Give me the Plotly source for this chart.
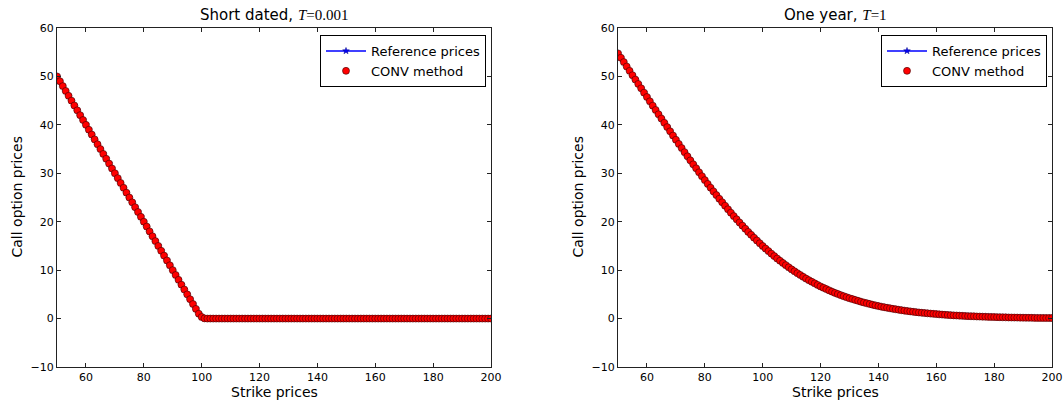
import plotly.graph_objects as go

strikes = list(range(50, 201))

ref_short = [50, 49, 48, 47, 46, 45, 44, 43, 42, 41,
             40, 39, 38, 37, 36, 35, 34, 33, 32, 31,
             30, 29, 28, 27, 26, 25, 24, 23, 22, 21,
             20, 19, 18, 17, 16, 15, 14, 13, 12, 11,
             10, 9, 8, 7, 6, 5, 4, 3, 2, 1.01,
             0.32, 0.04] + [0.0] * 99
conv_short = list(ref_short)

ref_long = [54.76, 53.86, 52.96, 52.05, 51.15,
            50.25, 49.35, 48.45, 47.55, 46.65,
            45.75, 44.86, 43.97, 43.08, 42.19,
            41.30, 40.42, 39.54, 38.67, 37.80,
            36.93, 36.07, 35.21, 34.36, 33.51,
            32.67, 31.85, 31.03, 30.21, 29.40,
            28.59, 27.81, 27.03, 26.26, 25.50,
            24.74, 24.02, 23.30, 22.58, 21.87,
            21.16, 20.50, 19.84, 19.19, 18.54,
            17.90, 17.30, 16.71, 16.13, 15.55,
            14.98, 14.45, 13.93, 13.41, 12.90,
            12.40, 11.94, 11.48, 11.03, 10.59,
            10.16, 9.77, 9.38, 9.00, 8.62,
            8.25, 7.92, 7.59, 7.27, 6.95,
            6.64, 6.36, 6.09, 5.82, 5.56,
            5.30, 5.07, 4.84, 4.62, 4.41,
            4.20, 4.02, 3.84, 3.66, 3.48,
            3.31, 3.16, 3.01, 2.86, 2.72,
            2.58, 2.46, 2.34, 2.23, 2.12,
            2.01, 1.92, 1.82, 1.73, 1.64,
            1.55, 1.48, 1.40, 1.33, 1.26,
            1.20, 1.14, 1.08, 1.03, 0.97,
            0.92, 0.87, 0.83, 0.78, 0.74,
            0.70, 0.66, 0.63, 0.60, 0.56,
            0.53, 0.50, 0.48, 0.46, 0.43,
            0.41, 0.39, 0.37, 0.35, 0.33,
            0.31, 0.29, 0.28, 0.26, 0.25,
            0.23, 0.22, 0.21, 0.20, 0.19,
            0.18, 0.17, 0.16, 0.15, 0.14,
            0.13, 0.12, 0.12, 0.11, 0.11,
            0.10]
conv_long = list(ref_long)

titles = ['Short dated, <span style="font-family:\'Liberation Serif\'"><i>T</i>=0.001</span>',
          'One year, <span style="font-family:\'Liberation Serif\'"><i>T</i>=1</span>']
x_ticks = [60, 80, 100, 120, 140, 160, 180, 200]
y_ticks = [-10, 0, 10, 20, 30, 40, 50, 60]

W, H = 1063, 401
FONT = "DejaVu Sans"

fig = go.Figure()

panels = [
    (ref_short, conv_short, "x", "y", "legend", (57, 491)),
    (ref_long, conv_long, "x2", "y2", "legend2", (618, 1052)),
]

for ref, conv, xa, ya, lg, _ in panels:
    fig.add_trace(go.Scatter(
        x=strikes, y=ref, xaxis=xa, yaxis=ya, legend=lg,
        mode="lines+markers", name="Reference prices",
        line=dict(color="#0000ff", width=1.5),
        marker=dict(symbol="star", size=5, color="#0000ff",
                    line=dict(color="#000080", width=0.5)),
    ))
    fig.add_trace(go.Scatter(
        x=strikes, y=conv, xaxis=xa, yaxis=ya, legend=lg,
        mode="markers", name="CONV method",
        marker=dict(symbol="circle", size=7, color="#ff0000",
                    line=dict(color="#3a0000", width=0.6)),
    ))

top, bottom = 28, 367
ydom = [1 - bottom / H, 1 - top / H]

axis_common = dict(
    showgrid=False, zeroline=False, showline=True, linecolor="#222222",
    linewidth=1, mirror="allticks", ticks="inside", ticklen=4,
    tickcolor="#222222", tickwidth=1,
    tickfont=dict(family=FONT, size=11, color="#000000"),
    automargin=False,
)

layout = dict(
    width=W, height=H,
    margin=dict(l=0, r=0, t=0, b=0),
    paper_bgcolor="#ffffff", plot_bgcolor="#ffffff",
    font=dict(family=FONT, color="#000000"),
    annotations=[],
)

for i, (ref, conv, xa, ya, lg, (x0, x1)) in enumerate(panels):
    xname = "xaxis" if i == 0 else "xaxis2"
    yname = "yaxis" if i == 0 else "yaxis2"
    layout[xname] = dict(axis_common, domain=[x0 / W, x1 / W], range=[50, 200],
                         tickvals=x_ticks, anchor=ya)
    layout[yname] = dict(axis_common, domain=ydom, range=[-10, 60],
                         tickvals=y_ticks, anchor=xa)
    layout[lg] = dict(
        x=(x1 - 5) / W, y=1 - 35 / H, xanchor="right", yanchor="top",
        bgcolor="#ffffff", bordercolor="#000000", borderwidth=1,
        font=dict(family=FONT, size=13, color="#000000"),
        tracegroupgap=0, itemwidth=40,
    )
    cx = (x0 + x1) / 2 / W
    layout["annotations"].append(dict(
        text=titles[i], xref="paper", yref="paper", x=cx, y=1 - 15 / H,
        xanchor="center", yanchor="middle", showarrow=False,
        font=dict(family=FONT, size=15, color="#000000")))
    layout["annotations"].append(dict(
        text="Strike prices", xref="paper", yref="paper", x=cx, y=1 - 392 / H,
        xanchor="center", yanchor="middle", showarrow=False,
        font=dict(family=FONT, size=14, color="#000000")))
    layout["annotations"].append(dict(
        text="Call option prices", xref="paper", yref="paper",
        x=(x0 - 40) / W, y=(ydom[0] + ydom[1]) / 2,
        xanchor="center", yanchor="middle", textangle=-90, showarrow=False,
        font=dict(family=FONT, size=14, color="#000000")))

fig.update_layout(**layout)
fig.write_html("out.html")
